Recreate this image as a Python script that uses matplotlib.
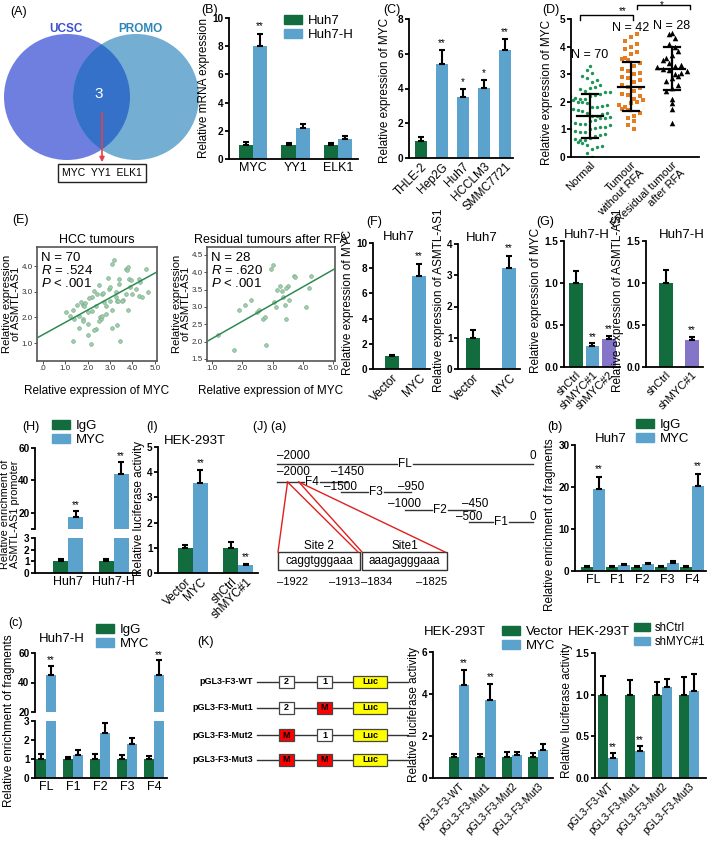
import numpy as np
import matplotlib
matplotlib.use('Agg')
import matplotlib.pyplot as plt
from matplotlib.patches import Circle, Rectangle, Patch

plt.rcParams['font.family'] = ['Liberation Sans', 'DejaVu Sans']
plt.rcParams['mathtext.fontset'] = 'custom'
plt.rcParams['mathtext.rm'] = 'Liberation Sans'
plt.rcParams['mathtext.it'] = 'Liberation Sans:italic'

W, H = 709, 844
GREEN = '#136c3d'
BLUE = '#5ba3cc'
PURPLE = '#8575c9'

# ---- data ----
b_genes = ['MYC', 'YY1', 'ELK1']
b_huh7 = [1.0, 1.0, 1.0]
b_huh7_err = [0.2, 0.12, 0.15]
b_huh7h = [8.0, 2.2, 1.4]
b_huh7h_err = [0.9, 0.3, 0.22]

c_lines = ['THLE-2', 'Hep2G', 'Huh7', 'HCCLM3', 'SMMC7721']
c_vals = [1.0, 5.4, 3.5, 4.05, 6.2]
c_err = [0.22, 0.8, 0.5, 0.45, 0.65]
c_sig = ['', '**', '*', '*', '**']

d_groups = ['Normal', 'Tumour\nwithout RFA', 'FResidual tumour\nafter RFA']
d_normal = [0.0, 0.15, 0.3, 0.35, 0.4, 0.45, 0.5, 0.55, 0.6, 0.6, 0.65, 0.7, 0.75,
            0.8, 0.85, 0.9, 0.9, 0.95, 1.0, 1.0, 1.05, 1.1, 1.1, 1.15, 1.2, 1.2,
            1.25, 1.3, 1.3, 1.35, 1.4, 1.4, 1.45, 1.5, 1.5, 1.55, 1.6, 1.6, 1.65,
            1.7, 1.75, 1.8, 1.8, 1.85, 1.9, 1.95, 2.0, 2.0, 2.05, 2.1, 2.1, 2.15,
            2.2, 2.2, 2.25, 2.3, 2.35, 2.35, 2.4, 2.45, 2.5, 2.55, 2.6, 2.7, 2.8,
            2.85, 2.95, 3.05, 3.15, 3.3]
d_tumour = [1.0, 1.15, 1.3, 1.4, 1.5, 1.6, 1.7, 1.75, 1.8, 1.9, 1.95, 2.0, 2.05,
            2.1, 2.2, 2.25, 2.3, 2.4, 2.5, 2.55, 2.6, 2.7, 2.8, 2.85, 2.9, 3.0,
            3.05, 3.1, 3.2, 3.3, 3.4, 3.5, 3.55, 3.6, 3.75, 3.8, 3.9, 4.0, 4.1,
            4.2, 4.35, 4.45]
d_residual = [1.25, 1.75, 1.95, 2.1, 2.4, 2.5, 2.6, 2.75, 2.85, 2.95, 3.0, 3.05,
              3.1, 3.15, 3.2, 3.25, 3.3, 3.35, 3.4, 3.5, 3.6, 3.7, 3.85, 4.0,
              4.1, 4.3, 4.45, 4.5]
d_mean = [1.5, 2.55, 3.2]
d_sd = [0.8, 0.9, 0.78]
d_n = [70, 42, 28]

e_hcc_x = [3.17, 3.1, 3.7, 3.75, 3.8, 4.6, 3.85, 3.95, 4.3, 4.35,
           2.5, 2.3, 2.65, 2.7, 3.4, 3.4, 3.25, 2.95, 3.25, 3.7,
           4.0, 4.3, 4.45, 2.2, 1.8, 1.85, 1.9, 1.5, 1.35, 1.05,
           1.2, 1.4, 1.8, 2.0, 2.2, 2.35, 2.75, 2.8, 3.0, 3.3,
           3.35, 3.6, 3.8, 2.55, 2.6, 2.65, 2.8, 3.1, 3.3, 3.1,
           1.6, 2.0, 1.8, 2.35, 2.3, 2.0, 1.35, 2.15, 3.45, 1.7,
           2.4, 2.9, 3.55, 4.15, 1.6, 2.5, 3.0, 3.9, 2.05, 4.7]
e_hcc_y = [4.23, 4.1, 3.9, 3.85, 3.95, 3.9, 3.5, 3.45, 3.5, 3.4,
           3.25, 3.05, 2.9, 2.95, 3.5, 3.3, 3.0, 3.1, 2.8, 2.9,
           2.9, 2.85, 2.8, 2.8, 2.5, 2.45, 2.55, 2.5, 2.3, 2.2,
           2.05, 1.95, 1.95, 2.2, 2.25, 2.45, 2.6, 2.45, 2.65, 2.65,
           2.65, 2.7, 2.3, 2.0, 1.95, 2.05, 2.15, 2.3, 1.7, 1.6,
           1.6, 1.75, 1.85, 1.55, 1.5, 1.3, 1.1, 0.95, 1.1, 2.6,
           2.9, 3.55, 2.65, 3.1, 2.05, 1.85, 3.2, 3.2, 2.75, 3.0]
e_hcc_fit = (0.48, 1.33)   # slope, intercept
e_res_x = [1.2, 1.75, 1.9, 2.1, 2.3, 2.5, 2.55, 2.7, 2.75, 2.8, 2.95, 3.0, 3.05, 3.1,
           3.15, 3.25, 3.35, 3.4, 3.45, 3.5, 3.55, 3.3, 3.7, 3.75, 4.1, 4.2, 4.25, 3.45]
e_res_y = [2.2, 1.75, 2.9, 3.05, 3.2, 2.85, 2.9, 2.65, 2.7, 1.9, 4.1, 4.2, 3.15, 3.0,
           3.5, 3.6, 3.3, 3.05, 2.65, 3.6, 3.2, 3.45, 3.9, 3.85, 3.0, 3.55, 3.9, 3.55]
e_res_fit = (0.5, 1.58)

f_groups = ['Vector', 'MYC']
f_myc = [1.0, 7.35]
f_myc_err = [0.15, 1.0]
f_asmtl = [1.0, 3.22]
f_asmtl_err = [0.25, 0.4]

g_groups = ['shCtrl', 'shMYC#1', 'shMYC#2']
g_myc = [1.0, 0.25, 0.33]
g_myc_err = [0.14, 0.03, 0.04]
g_groups2 = ['shCtrl', 'shMYC#1']
g_asmtl = [1.0, 0.32]
g_asmtl_err = [0.16, 0.04]

h_cells = ['Huh7', 'Huh7-H']
h_igg = [1.0, 1.0]
h_igg_err = [0.22, 0.2]
h_myc = [17.5, 44.0]
h_myc_err = [3.5, 7.5]

i_groups = ['Vector', 'MYC', 'shCtrl', 'shMYC#1']
i_vals = [1.0, 3.57, 1.0, 0.3]
i_err = [0.12, 0.5, 0.22, 0.04]
i_sig = ['', '**', '', '**']

j_frag = ['FL', 'F1', 'F2', 'F3', 'F4']
jb_igg = [1.0, 1.0, 1.0, 1.0, 1.0]
jb_igg_err = [0.15, 0.15, 0.15, 0.15, 0.15]
jb_myc = [19.5, 1.4, 1.75, 2.0, 20.2]
jb_myc_err = [3.0, 0.25, 0.2, 0.35, 3.0]

jc_igg = [1.0, 1.0, 1.0, 1.0, 1.0]
jc_igg_err = [0.25, 0.1, 0.25, 0.2, 0.15]
jc_myc = [45.0, 1.2, 2.38, 1.78, 45.0]
jc_myc_err = [6.0, 0.28, 0.5, 0.35, 10.0]

k_constructs = ['pGL3-F3-WT', 'pGL3-F3-Mut1', 'pGL3-F3-Mut2', 'pGL3-F3-Mut3']
k_site2 = ['2', '2', 'M', 'M']
k_site1 = ['1', 'M', '1', 'M']
k_vector = [1.0, 1.0, 1.0, 1.0]
k_vector_err = [0.15, 0.15, 0.22, 0.2]
k_myc = [4.45, 3.73, 1.08, 1.35]
k_myc_err = [0.7, 0.76, 0.18, 0.25]
k_shctrl = [1.0, 1.0, 1.0, 1.0]
k_shctrl_err = [0.22, 0.18, 0.15, 0.21]
k_shmyc = [0.24, 0.33, 1.09, 1.04]
k_shmyc_err = [0.06, 0.05, 0.1, 0.21]

frag_names = ['FL', 'F4', 'F3', 'F2', 'F1']
frag_start = [-2000, -2000, -1500, -1000, -500]
frag_end = [0, -1450, -950, -450, 0]
site_names = ['Site 2', 'Site1']
site_seq = ['caggtgggaaa', 'aaagagggaaa']
site_bp = [(-1922, -1913), (-1834, -1825)]

fig = plt.figure(figsize=(W / 100, H / 100), dpi=100)


def px_axes(l, t, r, b):
    ax = fig.add_axes([l / W, 1 - b / H, (r - l) / W, (b - t) / H])
    ax.patch.set_alpha(0)
    return ax


def ftext(x, y, s, **kw):
    kw.setdefault('va', 'center')
    kw.setdefault('fontsize', 9)
    fig.text(x / W, 1 - y / H, s, **kw)


def ylab(ax, text, y_mid, fs=8.5, pad=1.5, **kw):
    # x is placed by matplotlib next to the tick labels, y centred on y_mid (pixels)
    ax.set_ylabel(text, fontsize=fs, labelpad=pad, **kw)
    pos = ax.get_position()
    ax.yaxis.label.set_y(((1 - y_mid / H) - pos.y0) / pos.height)


def style(ax, xlim, ylim, yticks, ylabels=None, bottom=True):
    for s in ['top', 'right']:
        ax.spines[s].set_visible(False)
    ax.spines['left'].set_linewidth(1.3)
    ax.spines['bottom'].set_linewidth(1.3)
    if not bottom:
        ax.spines['bottom'].set_visible(False)
    ax.set_xlim(xlim)
    ax.set_ylim(ylim)
    if ylabels is None:
        ylabels = [f'{v:g}' for v in yticks]
    ax.set_yticks(yticks)
    ax.set_yticklabels(ylabels, fontweight='bold')
    ax.tick_params(axis='y', direction='out', length=3, width=1.3, labelsize=7.2, pad=1)
    ax.tick_params(axis='x', length=0, labelsize=8.5, pad=2)


def bars(ax, x, vals, errs, color, width):
    ax.bar(x, vals, width, color=color, zorder=2)
    ax.errorbar(x, vals, yerr=[np.zeros(len(vals)), errs], fmt='none', ecolor='black',
                elinewidth=1.5, capsize=2.5, capthick=1.5, zorder=3)


def stars(ax, x, vals, errs, sig, pad):
    for xi, v, e, s in zip(x, vals, errs, sig):
        if s:
            ax.text(xi, v + e + pad, s, ha='center', va='bottom', fontsize=7)


def legend_px(x, y, labels, colors, fs=9.5):
    hs = [Patch(color=c) for c in colors]
    fig.legend(hs, labels, loc='upper left', bbox_to_anchor=(x / W, 1 - y / H),
               frameon=False, fontsize=fs, handlelength=1.4, handleheight=0.7,
               handletextpad=0.4, labelspacing=0.15, borderpad=0, borderaxespad=0)


def rot_labels(ax, labels, fs=8.5):
    ax.set_xticks(range(len(labels)))
    ax.set_xticklabels(labels, rotation=45, ha='right', rotation_mode='anchor', fontsize=fs)


def swarm_offsets(vals, bin_w, step):
    vals = np.asarray(vals)
    bins = np.floor(vals / bin_w).astype(int)
    off = np.zeros(len(vals))
    for b in np.unique(bins):
        idx = np.where(bins == b)[0]
        n = len(idx)
        slots = (np.arange(n) - (n - 1) / 2) * step
        order = np.argsort(np.abs(slots) * (1 + 0.01 * np.arange(n)))
        off[idx] = slots[np.r_[order[1::2], order[0::2]]] if n > 1 else 0
    return off


# ---- overlay for schematics ----
ov = fig.add_axes([0, 0, 1, 1], zorder=-1)
ov.set_xlim(0, W)
ov.set_ylim(H, 0)
ov.axis('off')

# (A) Venn
left_c = Circle((67, 97), 63, color='#6f7fe0', lw=0)
right_c = Circle((136, 97), 63, color='#74aed2', lw=0)
ov.add_patch(left_c)
ov.add_patch(right_c)
inter = Circle((67, 97), 63, color='#3571c8', lw=0)
ov.add_patch(inter)
inter.set_clip_path(right_c)
ov.text(66, 29, 'UCSC', color='#3b50d2', ha='center', va='center', fontsize=8.5, fontweight='bold')
ov.text(140, 29, 'PROMO', color='#2e86b8', ha='center', va='center', fontsize=8.5, fontweight='bold')
ov.text(99, 94, '3', color='white', ha='center', va='center', fontsize=11)
ov.annotate('', xy=(102, 165), xytext=(102, 110),
            arrowprops=dict(arrowstyle='-|>', color='#e8404a', lw=1.2, mutation_scale=7))
ov.text(102, 173, 'MYC  YY1  ELK1', ha='center', va='center', fontsize=7.5,
        bbox=dict(boxstyle='square,pad=0.35', fc='white', ec='#222', lw=1))
ftext(10, 12, '(A)')

# (B)
ax = px_axes(229, 18, 358, 159)
x = np.arange(3)
bars(ax, x - 0.165, b_huh7, b_huh7_err, GREEN, 0.33)
bars(ax, x + 0.165, b_huh7h, b_huh7h_err, BLUE, 0.33)
stars(ax, x + 0.165, b_huh7h, b_huh7h_err, ['**', '', ''], 0.2)
style(ax, (-0.565, 2.47), (0, 10), [0, 2, 4, 6, 8, 10])
ax.set_xticks(x)
ax.set_xticklabels(b_genes, fontsize=9)
ylab(ax, 'Relative mRNA expression', 88)
legend_px(284, 15, ['Huh7', 'Huh7-H'], [GREEN, BLUE])
ftext(201, 10, '(B)')

# (C)
ax = px_axes(409, 19, 513, 158)
bars(ax, np.arange(5), c_vals, c_err, [GREEN] + [BLUE] * 4, 0.6)
stars(ax, np.arange(5), c_vals, c_err, c_sig, 0.1)
style(ax, (-0.57, 4.38), (0, 8), [0, 2, 4, 6, 8])
rot_labels(ax, c_lines)
ylab(ax, 'Relative expression of MYC', 90, pad=5)
ftext(383, 10, '(C)')

# (D)
ax = px_axes(571, 19, 699, 157)
d_sets = [d_normal, d_tumour, d_residual]
d_styles = [dict(marker='o', s=6, color='#1e9557'),
            dict(marker='s', s=5, color='#e47d1f'),
            dict(marker='^', s=16, color='black')]
for i, (vals, st) in enumerate(zip(d_sets, d_styles)):
    off = swarm_offsets(vals, 0.3, 0.12 if i == 0 else 0.15)
    ax.scatter(i + off, vals, zorder=2, linewidths=0, **st)
    m, s = d_mean[i], d_sd[i]
    ax.plot([i - 0.32, i + 0.32], [m, m], color='black', lw=1.6, zorder=3)
    ax.plot([i - 0.2, i + 0.2], [m - s, m - s], color='black', lw=1.6, zorder=3)
    ax.plot([i - 0.2, i + 0.2], [m + s, m + s], color='black', lw=1.6, zorder=3)
    ax.plot([i, i], [m - s, m + s], color='black', lw=1.6, zorder=3)
ax.text(0, 3.6, f'N = {d_n[0]}', ha='center', fontsize=9)
ax.text(1, 4.55, f'N = {d_n[1]}', ha='center', fontsize=9)
ax.text(2, 4.65, f'N = {d_n[2]}', ha='center', fontsize=9)
ax.plot([-0.25, -0.25, 1.05, 1.05], [4.95, 5.15, 5.15, 4.95], color='black', lw=1, clip_on=False)
ax.text(0.8, 5.12, '**', ha='center', va='bottom', fontsize=7)
ax.plot([1.15, 1.15, 2.45, 2.45], [5.38, 5.5, 5.5, 5.35], color='black', lw=1, clip_on=False)
ax.text(1.75, 5.5, '*', ha='center', va='center', fontsize=7)
style(ax, (-0.46, 2.66), (0, 5), [0, 1, 2, 3, 4, 5])
rot_labels(ax, d_groups, fs=8)
ylab(ax, 'Relative expression of MYC', 92, pad=5)
ftext(542, 10, '(D)')


# (E)
def e_panel(rect, xs, ys, fit, xlim, ylim, xt, xtl, yt, ytl, title, stats):
    ax = px_axes(*rect)
    ax.scatter(xs, ys, s=7, color='#a3cfb0', edgecolors='#78ae88', linewidths=0.5, zorder=2)
    xx = np.array(xlim)
    ax.plot(xx, fit[0] * xx + fit[1], color='#2e8a52', lw=1.1, zorder=3)
    ax.set_xlim(xlim)
    ax.set_ylim(ylim)
    ax.set_xticks(xt)
    ax.set_xticklabels(xtl)
    ax.set_yticks(yt)
    ax.set_yticklabels(ytl)
    for s in ax.spines.values():
        s.set_color('#555')
        s.set_linewidth(1.2)
    ax.tick_params(labelsize=5.8, length=2, width=0.6, colors='#333', pad=1)
    ax.set_title(title, fontsize=9, pad=3)
    ax.text(0.03, 0.96, stats, transform=ax.transAxes, ha='left', va='top', fontsize=9.5,
            linespacing=1.0)
    ax.set_xlabel('Relative expression of MYC', fontsize=8.5, labelpad=9)
    ylab(ax, 'Relative expression\nof ASMTL-AS1', 304, fs=8.1, pad=0.5, linespacing=0.9)
    return ax


e_panel((37, 247, 157, 361), e_hcc_x, e_hcc_y, e_hcc_fit, (-0.27, 5.1), (0.3, 4.75),
        [0, 1, 2, 3, 4, 5], ['.0', '1.0', '2.0', '3.0', '4.0', '5.0'],
        [1, 2, 3, 4], ['1.0', '2.0', '3.0', '4.0'], 'HCC tumours',
        'N = 70\n$R$ = .524\n$P$ < .001')
e_panel((207, 247, 335, 361), e_res_x, e_res_y, e_res_fit, (0.85, 5.05), (1.44, 4.73),
        [1, 2, 3, 4, 5], ['1.0', '2.0', '3.0', '4.0', '5.0'],
        [1.5, 2, 2.5, 3, 3.5, 4, 4.5], ['1.5', '2.0', '2.5', '3.0', '3.5', '4.0', '4.5'],
        'Residual tumours after RFA', 'N = 28\n$R$ = .620\n$P$ < .001')
ftext(12, 220, '(E)')

# (F)
ax = px_axes(373, 243, 430, 369)
bars(ax, [0, 1], f_myc, f_myc_err, [GREEN, BLUE], 0.5)
stars(ax, [0, 1], f_myc, f_myc_err, ['', '**'], 0.2)
style(ax, (-0.7, 1.41), (0, 10), [0, 2, 4, 6, 8, 10])
rot_labels(ax, f_groups)
ax.set_title('Huh7', fontsize=9.5, pad=2, x=0.46)
ylab(ax, 'Relative expression of MYC', 302)

ax = px_axes(458, 244, 520, 369)
bars(ax, [0, 1], f_asmtl, f_asmtl_err, [GREEN, BLUE], 0.39)
stars(ax, [0, 1], f_asmtl, f_asmtl_err, ['', '**'], 0.08)
style(ax, (-0.42, 1.31), (0, 4), [0, 1, 2, 3, 4])
rot_labels(ax, f_groups)
ax.set_title('Huh7', fontsize=9.5, pad=2, x=0.39)
ylab(ax, 'Relative expression of ASMTL-AS1', 300)
ftext(366, 222, '(F)')

# (G)
ax = px_axes(564, 241, 620, 367)
bars(ax, [0, 1, 2], g_myc, g_myc_err, [GREEN, BLUE, PURPLE], 0.8)
stars(ax, [0, 1, 2], g_myc, g_myc_err, ['', '**', '**'], 0.02)
style(ax, (-0.73, 2.67), (0, 1.5), [0, 0.5, 1.0, 1.5], ['0.0', '0.5', '1.0', '1.5'])
rot_labels(ax, g_groups, fs=8)
ax.set_title('Huh7-H', fontsize=9.5, pad=2, x=0.41)
ylab(ax, 'Relative expression of MYC', 300)

ax = px_axes(646, 241, 703, 367)
bars(ax, [0, 1], g_asmtl, g_asmtl_err, [GREEN, PURPLE], 0.54)
stars(ax, [0, 1], g_asmtl, g_asmtl_err, ['', '**'], 0.02)
style(ax, (-0.77, 1.42), (0, 1.5), [0, 0.5, 1.0, 1.5], ['0.0', '0.5', '1.0', '1.5'])
rot_labels(ax, g_groups2, fs=8)
ax.set_title('Huh7-H', fontsize=9.5, pad=2, x=0.63)
ylab(ax, 'Relative expression of ASMTL-AS1', 300)
ftext(536, 222, '(G)')


# broken-axis pair
def broken(top_rect, bot_rect, xlim, up_lim, up_ticks, x, groups_igg, err_igg, groups_myc,
           err_myc, w, labels):
    ax_u = px_axes(*top_rect)
    ax_l = px_axes(*bot_rect)
    for a in (ax_u, ax_l):
        bars(a, x - w / 2, groups_igg, err_igg, GREEN, w)
        bars(a, x + w / 2, groups_myc, err_myc, BLUE, w)
    style(ax_u, xlim, up_lim, up_ticks, [''] + [f'{v:g}' for v in up_ticks[1:]], bottom=False)
    ax_u.set_xticks([])
    style(ax_l, xlim, (0, 3), [0, 1, 2, 3])
    ax_l.set_xticks(x)
    ax_l.set_xticklabels(labels, fontsize=9)
    sig = ['**' if m > 5 else '' for m in groups_myc]
    stars(ax_u, x + w / 2, groups_myc, err_myc, sig, 0.5)
    return ax_u, ax_l


# (H)
hx = np.arange(2)
ax_u, ax_l = broken((35, 448, 140, 529), (35, 538, 140, 573), (-0.73, 1.58), (10, 60),
                    [10, 20, 40, 60], hx, h_igg, h_igg_err, h_myc, h_myc_err, 0.33, h_cells)
ftext(10, 514, 'Relative enrichment of\nASMTL-AS1 promoter', rotation=90,
      ha='center', fontsize=7.8, linespacing=0.9)
legend_px(52, 420, ['IgG', 'MYC'], [GREEN, BLUE])
ftext(22, 427, '(H)')

# (I)
ax = px_axes(158, 447, 258, 573)
ix = [0, 1, 3, 4]
bars(ax, ix, i_vals, i_err, [GREEN, BLUE, GREEN, BLUE], 1.0)
stars(ax, ix, i_vals, i_err, i_sig, 0.1)
style(ax, (-1.83, 4.83), (0, 5), [0, 1, 2, 3, 4, 5])
ax.set_xticks(ix)
ax.set_xticklabels(i_groups, rotation=45, ha='right', rotation_mode='anchor', fontsize=8.5)
ax.set_title('HEK-293T', fontsize=9.5, pad=2, x=0.37)
ylab(ax, 'Relative luciferase activity', 508)
ftext(146, 427, '(I)')


# (J)(a) schematic
def bp2px(bp):
    return 277 + (bp + 2000) * 0.128


row_y = [464, 482, 492, 510, 522]
row_lab_off = [-8, -10, -5, -6, -5]
for name, s, e, y, dy in zip(frag_names, frag_start, frag_end, row_y, row_lab_off):
    x0, x1 = bp2px(s), bp2px(e)
    mid = (x0 + x1) / 2
    ov.plot([x0, mid - 8], [y, y], color='#333', lw=1)
    ov.plot([mid + 8, x1], [y, y], color='#333', lw=1)
    ov.text(mid, y, name, ha='center', va='center', fontsize=8.5)
    ov.text(x0 + (16 if s == -2000 else 0), y + dy, f'\u2013{-s}', ha='center', va='center',
            fontsize=8.5)
    ov.text(x1, y + dy, f'\u2013{-e}' if e else '0', ha='center', va='center', fontsize=8.5)
box_x = [(278, 360), (362, 447)]
for (b0, b1), (p0, p1), nm, seq in zip(box_x, site_bp, site_names, site_seq):
    sx = bp2px((p0 + p1) / 2)
    ov.plot([sx, b0], [482, 552], color='#e02020', lw=1)
    ov.plot([sx, b1 - 2], [482, 552], color='#e02020', lw=1)
    ov.add_patch(Rectangle((b0, 552), b1 - b0, 18, fc='white', ec='#333', lw=1))
    ov.text((b0 + b1) / 2, 561, seq, ha='center', va='center', fontsize=8.5)
    ov.text((b0 + b1) / 2, 546, nm, ha='center', va='center', fontsize=8.5)
    ov.text(b0 + 15, 582, f'\u2013{-p0}', ha='center', va='center', fontsize=8)
    ov.text(b1 - 15, 582, f'\u2013{-p1}', ha='center', va='center', fontsize=8)
ftext(253, 427, '(J) (a)')

# (J)(b)
ax = px_axes(575, 445, 706, 571)
jx = np.arange(5)
bars(ax, jx - 0.24, jb_igg, jb_igg_err, GREEN, 0.48)
bars(ax, jx + 0.24, jb_myc, jb_myc_err, BLUE, 0.48)
stars(ax, jx + 0.24, jb_myc, jb_myc_err, ['**', '', '', '', '**'], 0.5)
style(ax, (-0.73, 4.57), (0, 30), [0, 10, 20, 30])
ax.set_xticks(jx)
ax.set_xticklabels(j_frag, fontsize=9)
ax.set_title('Huh7', fontsize=9.5, pad=2, x=0.27)
ylab(ax, 'Relative enrichment of fragments', 525)
legend_px(636, 419, ['IgG', 'MYC'], [GREEN, BLUE])
ftext(547, 427, '(b)')

# (c)
ax_u, ax_l = broken((35, 653, 167, 712), (35, 721, 167, 778), (-0.41, 4.48), (20, 60),
                    [20, 40, 60], jx, jc_igg, jc_igg_err, jc_myc, jc_myc_err, 0.37, j_frag)
ax_u.set_yticklabels(['20', '40', '60'], fontweight='bold')
ax_u.set_title('Huh7-H', fontsize=9.5, pad=8, x=0.2)
ftext(9, 721, 'Relative enrichment of fragments', rotation=90, ha='center', fontsize=8.5)
legend_px(96, 624, ['IgG', 'MYC'], [GREEN, BLUE])
ftext(8, 623, '(c)')

# (K) schematic
row_k = [682, 708, 735, 760]
for name, s2, s1, y in zip(k_constructs, k_site2, k_site1, row_k):
    ov.text(253, y, name, ha='right', va='center', fontsize=6.5, fontweight='bold')
    ov.plot([257, 408], [y, y], color='#333', lw=1, zorder=1)
    for (bx, lab) in [(279, s2), (317, s1)]:
        fc = '#ff0000' if lab == 'M' else 'white'
        ov.add_patch(Rectangle((bx, y - 6), 15, 12, fc=fc, ec='#444', lw=0.9, zorder=2))
        ov.text(bx + 7.5, y, lab, ha='center', va='center', fontsize=6.5, fontweight='bold', zorder=3)
    ov.add_patch(Rectangle((353, y - 6), 34, 12, fc='#ffff00', ec='#444', lw=0.9, zorder=2))
    ov.text(370, y, 'Luc', ha='center', va='center', fontsize=6.5, fontweight='bold', zorder=3)
ftext(197, 642, '(K)')

kx = np.arange(4)
ax = px_axes(433, 652, 553, 778)
bars(ax, kx - 0.19, k_vector, k_vector_err, GREEN, 0.38)
bars(ax, kx + 0.19, k_myc, k_myc_err, BLUE, 0.38)
stars(ax, kx + 0.19, k_myc, k_myc_err, ['**', '**', '', ''], 0.1)
style(ax, (-0.98, 3.55), (0, 6), [0, 2, 4, 6])
rot_labels(ax, k_constructs, fs=7.5)
ylab(ax, 'Relative luciferase activity', 715)
ftext(455, 632, 'HEK-293T', ha='center', fontsize=9.5)
legend_px(502, 626, ['Vector', 'MYC'], [GREEN, BLUE])

ax = px_axes(595, 653, 706, 778)
bars(ax, kx - 0.185, k_shctrl, k_shctrl_err, GREEN, 0.37)
bars(ax, kx + 0.185, k_shmyc, k_shmyc_err, BLUE, 0.37)
stars(ax, kx + 0.185, k_shmyc, k_shmyc_err, ['**', '**', '', ''], 0.01)
style(ax, (-0.48, 3.63), (0, 1.5), [0, 0.5, 1.0, 1.5], ['0.0', '0.5', '1.0', '1.5'])
rot_labels(ax, k_constructs, fs=7.5)
ylab(ax, 'Relative luciferase activity', 710)
ftext(599, 632, 'HEK-293T', ha='center', fontsize=9.5)
legend_px(634, 622, ['shCtrl', 'shMYC#1'], [GREEN, BLUE], fs=8.3)

fig.savefig('out.png', dpi=100)
